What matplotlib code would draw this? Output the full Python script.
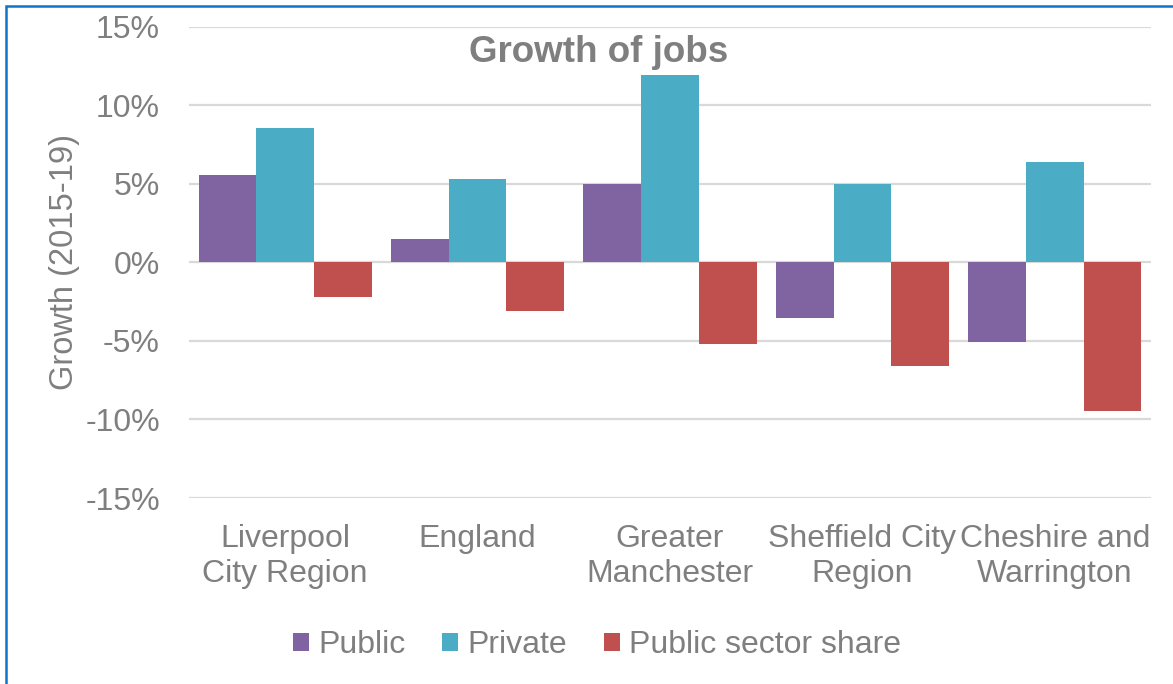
import numpy as np
import matplotlib.pyplot as plt
from matplotlib.patches import Rectangle

plt.rcParams['font.family'] = ['Liberation Sans', 'DejaVu Sans']

regions = ['Liverpool\nCity Region', 'England', 'Greater\nManchester',
           'Sheffield City\nRegion', 'Cheshire and\nWarrington']
public = [5.55, 1.5, 4.95, -3.55, -5.1]
private = [8.55, 5.3, 11.9, 5.0, 6.35]
public_share = [-2.2, -3.1, -5.2, -6.6, -9.45]
yticks = [-15, -10, -5, 0, 5, 10, 15]

grey = '#7f7f7f'
series = [('Public', public, '#8064A2'),
          ('Private', private, '#4BACC6'),
          ('Public sector share', public_share, '#C0504D')]

fig = plt.figure(figsize=(11.73, 6.84), dpi=100)
ax = fig.add_axes([189 / 1173, 1 - 498 / 684, 962 / 1173, 471.5 / 684])

x = np.arange(len(regions))
width = 0.3
for i, (name, vals, col) in enumerate(series):
    ax.bar(x + (i - 1) * width, vals, width, color=col, label=name, zorder=3)

ax.set_xlim(-0.5, len(regions) - 0.5)
ax.set_ylim(-15, 15)
ax.set_yticks(yticks)
ax.set_yticklabels([f'{t}%' for t in yticks])
ax.set_xticks(x)
ax.set_xticklabels(regions, linespacing=1.2)
ax.tick_params(axis='y', length=0, pad=21, labelsize=23, labelcolor=grey)
ax.tick_params(axis='x', length=0, pad=19, labelsize=23, labelcolor=grey)
ax.yaxis.grid(True, color='#d9d9d9', linewidth=1.6, zorder=0)
ax.set_axisbelow(True)
for s in ax.spines.values():
    s.set_visible(False)

ax.set_ylabel('Growth (2015-19)', fontsize=23.5, color=grey)
ax.yaxis.set_label_coords(-0.113, 0.5)

fig.text(599 / 1173, 1 - 52 / 684, 'Growth of jobs', fontsize=26.5,
         fontweight='bold', color=grey, ha='center', va='center')

leg = fig.legend(loc='center', bbox_to_anchor=(597 / 1173, 1 - 645 / 684),
                 ncol=3, frameon=False, fontsize=23, handlelength=0.5,
                 handleheight=0.5, handletextpad=0.28, columnspacing=1.15,
                 borderpad=0)
for t in leg.get_texts():
    t.set_color(grey)

# blue frame around the chart
fig.patches.append(Rectangle((6 / 1173, -0.1), 1.2, 1 - 6 / 684 + 0.1,
                             transform=fig.transFigure, fill=False,
                             edgecolor='#0E75CB', linewidth=1.8))

fig.savefig('out.png', dpi=100)
